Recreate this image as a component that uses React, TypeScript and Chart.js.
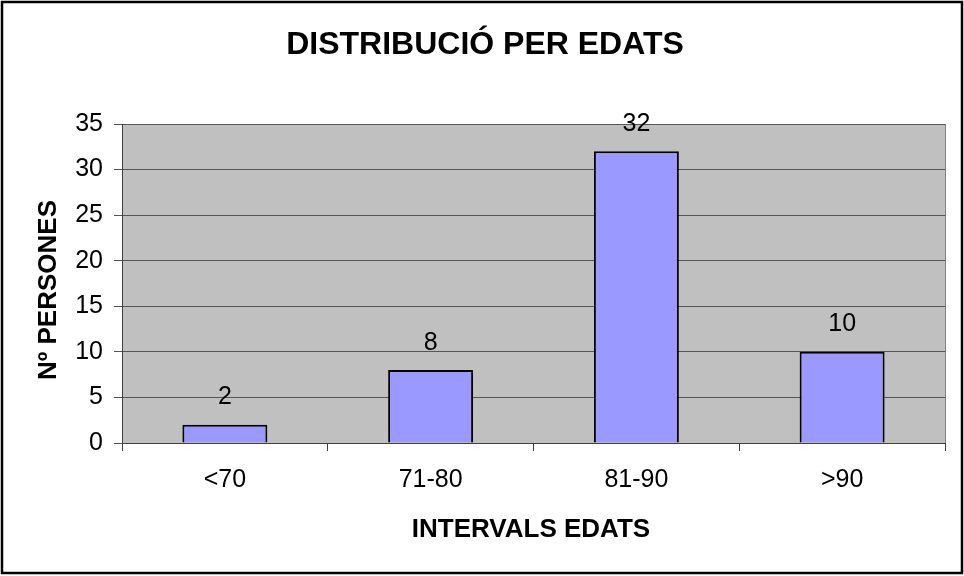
import React, { useEffect, useRef } from "react";
import { Chart, registerables } from "chart.js";

Chart.register(...registerables);

const categories = ["<70", "71-80", "81-90", ">90"];
const values = [2, 8, 32, 10];
const yTicks = [0, 5, 10, 15, 20, 25, 30, 35];
const titleText = "DISTRIBUCIÓ PER EDATS";
const xTitle = "INTERVALS EDATS";
const yTitle = "Nº PERSONES";

const FONT = "'Liberation Sans', Arial, sans-serif";

const customPlugin = {
  id: "custom",
  beforeDraw(chart: any) {
    const { ctx, chartArea } = chart;
    ctx.save();
    ctx.fillStyle = "#ffffff";
    ctx.fillRect(0, 0, chart.width, chart.height);
    ctx.fillStyle = "#C0C0C0";
    ctx.fillRect(chartArea.left, chartArea.top, chartArea.right - chartArea.left, chartArea.bottom - chartArea.top);
    ctx.restore();
  },
  afterDatasetsDraw(chart: any) {
    const { ctx } = chart;
    const meta = chart.getDatasetMeta(0);
    ctx.save();
    ctx.fillStyle = "#000";
    ctx.font = `25px ${FONT}`;
    ctx.textAlign = "center";
    ctx.textBaseline = "alphabetic";
    meta.data.forEach((bar: any, i: number) => {
      ctx.fillText(String(values[i]), bar.x, bar.y - 20.5);
    });
    ctx.restore();
  },
  afterDraw(chart: any) {
    const { ctx, chartArea } = chart;
    ctx.save();
    ctx.strokeStyle = "#808080";
    ctx.lineWidth = 1;
    ctx.beginPath();
    ctx.moveTo(Math.round(chartArea.right) + 0.5, chartArea.top);
    ctx.lineTo(Math.round(chartArea.right) + 0.5, chartArea.bottom);
    ctx.stroke();
    ctx.strokeStyle = "#000";
    ctx.lineWidth = 2.5;
    ctx.strokeRect(2, 2, 960, 571);
    ctx.fillStyle = "#000";
    ctx.textAlign = "center";
    ctx.textBaseline = "alphabetic";
    ctx.font = `bold 32px ${FONT}`;
    ctx.fillText(titleText, 485, 54);
    ctx.font = `bold 26px ${FONT}`;
    ctx.fillText(xTitle, 531, 537);
    ctx.translate(56, 290);
    ctx.rotate(-Math.PI / 2);
    ctx.fillText(yTitle, 0, 0);
    ctx.restore();
  },
};

export default function App() {
  const ref = useRef<HTMLCanvasElement | null>(null);
  useEffect(() => {
    if (!ref.current) return;
    const chart = new Chart(ref.current, {
      type: "bar",
      data: {
        labels: categories,
        datasets: [
          {
            data: values,
            backgroundColor: "#9999FF",
            borderColor: "#000000",
            borderWidth: 2,
            barPercentage: 0.413,
            categoryPercentage: 1,
          },
        ],
      },
      options: {
        responsive: false,
        animation: false,
        layout: { padding: { left: 62, top: 124, right: 19, bottom: 73 } },
        plugins: {
          legend: { display: false },
          title: { display: false },
          tooltip: { enabled: false },
        },
        scales: {
          x: {
            afterFit: (s: any) => {
              s.height = 60;
            },
            grid: {
              drawOnChartArea: false,
              drawTicks: true,
              tickLength: 8,
              color: "#404040",
              offset: true,
            },
            border: { display: true, color: "#404040", width: 1 },
            ticks: {
              color: "#000",
              padding: 14,
              font: { family: FONT, size: 25 },
              maxRotation: 0,
            },
          },
          y: {
            min: 0,
            max: 35,
            afterFit: (s: any) => {
              s.width = 60;
            },
            afterBuildTicks: (s: any) => {
              s.ticks = yTicks.map((v) => ({ value: v }));
            },
            grid: {
              color: "#555555",
              tickLength: 8,
              drawTicks: true,
            },
            border: { display: true, color: "#404040", width: 1 },
            ticks: {
              color: "#000",
              padding: 11,
              font: { family: FONT, size: 25 },
            },
          },
        },
      },
      plugins: [customPlugin],
    });
    return () => chart.destroy();
  }, []);
  return (
    <div style={{ position: "absolute", left: 0, top: 0, width: 964, height: 576 }}>
      <canvas ref={ref} width={964} height={576} style={{ display: "block" }} />
    </div>
  );
}
